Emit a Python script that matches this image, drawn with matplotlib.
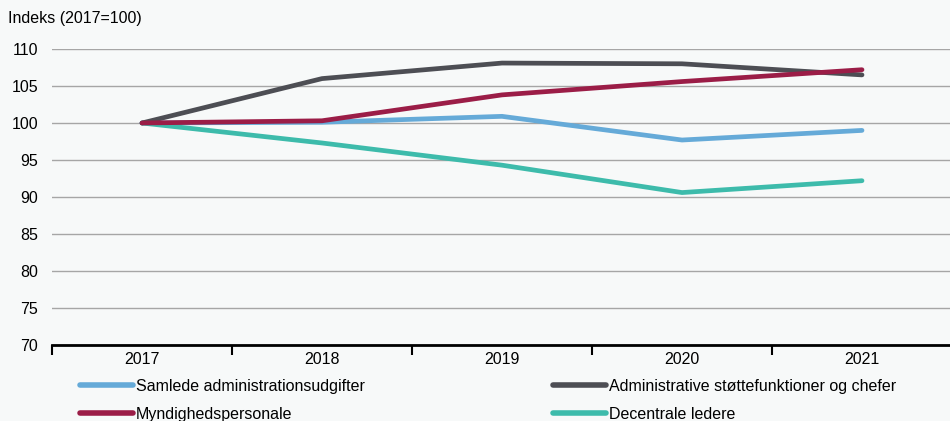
import matplotlib
matplotlib.use("Agg")
import matplotlib.pyplot as plt
from matplotlib.lines import Line2D

plt.rcParams['font.family'] = ['Liberation Sans', 'DejaVu Sans']

years = ["2017", "2018", "2019", "2020", "2021"]
samlede = [100, 100.1, 100.9, 97.7, 99.0]
admin = [100, 106.0, 108.1, 108.0, 106.5]
myndig = [100, 100.3, 103.8, 105.6, 107.2]
decentrale = [100, 97.3, 94.3, 90.6, 92.2]
labels = ["Samlede administrationsudgifter", "Administrative støttefunktioner og chefer",
          "Myndighedspersonale", "Decentrale ledere"]
colors = ["#65aad8", "#4d4e54", "#9b1d47", "#3dbbab"]
yticks = [70, 75, 80, 85, 90, 95, 100, 105, 110]

W, H = 950, 421
fig = plt.figure(figsize=(W/100, H/100), dpi=100)
bg = "#f7f9f9"
fig.patch.set_facecolor(bg)
ax = fig.add_axes([52/W, 1-345/H, 900/W, (345-49)/H])
ax.set_facecolor(bg)

x = list(range(len(years)))
series = [samlede, admin, myndig, decentrale]
order = [0, 3, 1, 2]
for i in order:
    ax.plot(x, series[i], color=colors[i], lw=3.4, solid_capstyle='round',
            solid_joinstyle='round', zorder=3)

fs = 11.5
ax.set_xlim(-0.5, 4.5)
ax.set_ylim(70, 110)
ax.set_yticks(yticks)
ax.set_yticklabels([str(t) for t in yticks], fontsize=fs)
ax.yaxis.grid(True, color="#a6a6a6", lw=1)
ax.set_axisbelow(True)
ax.tick_params(axis='y', length=0, pad=10)
ax.set_xticks(x)
ax.set_xticklabels(years, fontsize=fs)
ax.set_xticks([-0.5, 0.5, 1.5, 2.5, 3.5, 4.5], minor=True)
ax.tick_params(axis='x', which='major', length=0, pad=5)
ax.tick_params(axis='x', which='minor', length=7, width=1.5, color='black', direction='out')
for s in ['top', 'right', 'left']:
    ax.spines[s].set_visible(False)
ax.spines['bottom'].set_linewidth(2)
ax.spines['bottom'].set_color('black')

fig.text(8/W, 1-19/H, "Indeks (2017=100)", fontsize=fs, va='center', ha='left')

handles = [Line2D([0], [0], color=c, lw=4, solid_capstyle='round') for c in colors]
leg_order = [0, 2, 1, 3]
leg = fig.legend([handles[i] for i in leg_order], [labels[i] for i in leg_order],
                 ncol=2, loc='upper left', bbox_to_anchor=(80/W, 1-379/H),
                 frameon=False, fontsize=fs, handlelength=3.3, handletextpad=0.2,
                 columnspacing=11.8, labelspacing=0.8, borderaxespad=0, borderpad=0)

fig.savefig("out.png", dpi=100, facecolor=bg)
